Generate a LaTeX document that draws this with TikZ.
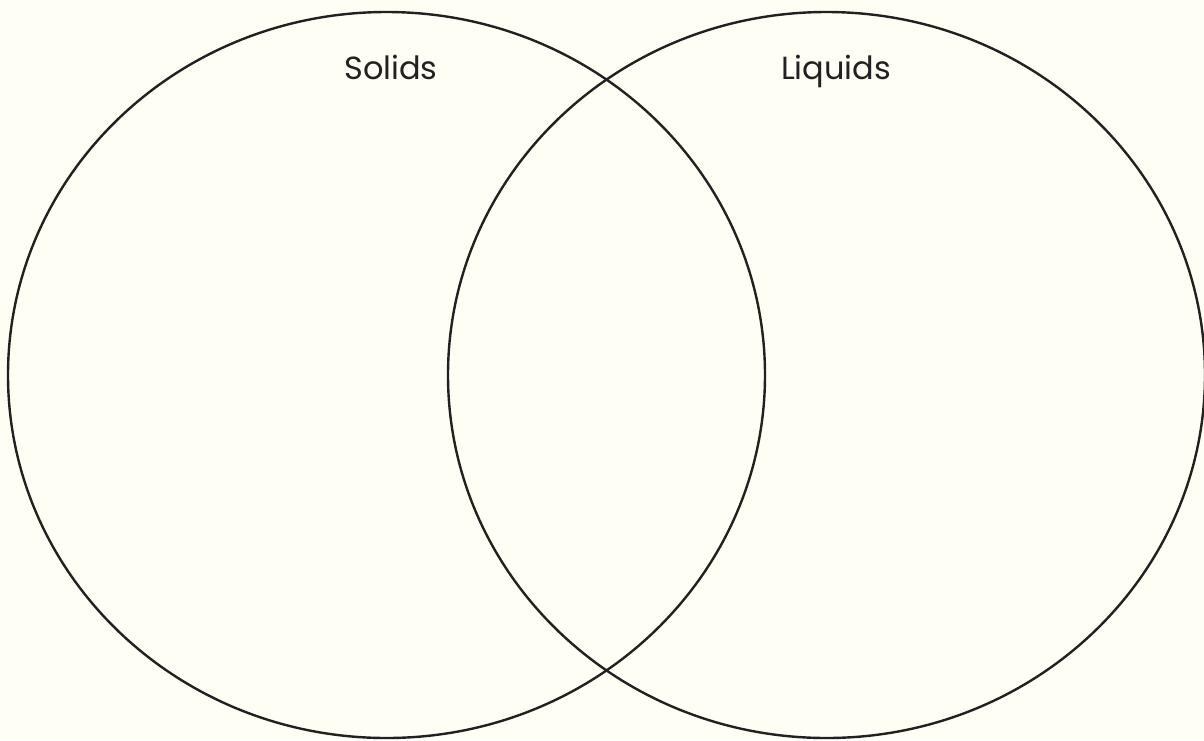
\documentclass[tikz,border=0pt]{standalone}
\usepackage{fontspec}
\setmainfont{Poppins}
\usepackage{xcolor}
\usetikzlibrary{shapes.geometric,positioning}
\definecolor{paper}{HTML}{FEFEF5}
\definecolor{ink}{HTML}{222020}

\begin{document}
\begin{tikzpicture}[x=1pt,y=-1pt]
  \tikzstyle{setring}=[ellipse,draw=ink,line width=2.4pt,inner sep=0pt,
    minimum width=757pt,minimum height=726pt]
  \tikzstyle{setname}=[font=\fontsize{32}{36}\selectfont,text=ink,anchor=base]
  \fill[paper] (0,0) rectangle (1204,740);
  \useasboundingbox (0,0) rectangle (1204,740);
  \node[setring] (solids) at (386.5,375) {};
  \node[setring] (liquids) at (826.5,375) {};
  \node[setname] (solidsname) at (391,79) {Solids};
  \node[setname] (liquidsname) at (836,79) {Liquids};
\end{tikzpicture}
\end{document}
